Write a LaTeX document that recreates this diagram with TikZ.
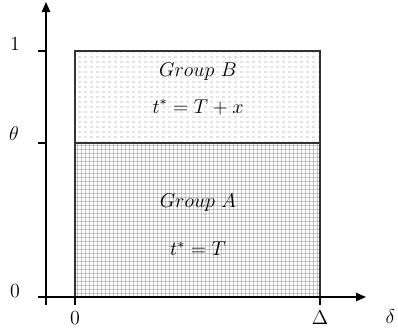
\documentclass[tikz,border=0pt]{standalone}
\usepackage{amsmath}
\usepackage{tikz}
\usetikzlibrary{arrows.meta,patterns.meta}

% light fill patterns for the two groups
\pgfdeclarepattern{
  name=dashrows,
  bottom left={\pgfpoint{0pt}{0pt}},
  top right={\pgfpoint{3.6pt}{2.7pt}},
  tile size={\pgfpoint{3.6pt}{2.7pt}},
  code={
    \pgfsetlinewidth{0.6pt}
    \pgfpathmoveto{\pgfpoint{0pt}{1.35pt}}
    \pgfpathlineto{\pgfpoint{2.2pt}{1.35pt}}
    \pgfusepath{stroke}
  }
}
\pgfdeclarepattern{
  name=finegrid,
  bottom left={\pgfpoint{0pt}{0pt}},
  top right={\pgfpoint{2.6pt}{2.6pt}},
  tile size={\pgfpoint{2.6pt}{2.6pt}},
  code={
    \pgfsetlinewidth{0.5pt}
    \pgfpathmoveto{\pgfpoint{0pt}{0.25pt}}
    \pgfpathlineto{\pgfpoint{2.6pt}{0.25pt}}
    \pgfpathmoveto{\pgfpoint{0.25pt}{0pt}}
    \pgfpathlineto{\pgfpoint{0.25pt}{2.6pt}}
    \pgfusepath{stroke}
  }
}

\begin{document}
\begin{tikzpicture}[
  x=0.6pt, y=-0.6pt,
  axis/.style={line width=0.9pt, -{Triangle[length=6pt,width=5pt]}},
  tickmark/.style={line width=0.9pt},
  region/.style={draw=black!80, line width=0.7pt},
  lbl/.style={font=\fontsize{12}{14}\selectfont, inner sep=1pt}
]
  \useasboundingbox (0,0) rectangle (398,328);

  % corners of the two regions
  \coordinate (a0) at (75,297);
  \coordinate (a1) at (320,143);
  \coordinate (b0) at (75,143);
  \coordinate (b1) at (320,51);

  % regions
  \path[pattern=finegrid, pattern color=black!35] (a0) rectangle (a1);
  \path[pattern=dashrows, pattern color=black!30] (b0) rectangle (b1);
  \draw[region] (a0) rectangle (a1);
  \draw[region] (b0) rectangle (b1);

  % axes
  \coordinate (ybot) at (46,305);
  \coordinate (ytop) at (46,2);
  \coordinate (xleft) at (38,297);
  \coordinate (xright) at (366,297);
  \draw[axis] (ybot) -- (ytop);
  \draw[axis] (xleft) -- (xright);

  % ticks
  \coordinate (t1) at (38,51);
  \coordinate (t1e) at (46,51);
  \coordinate (tth) at (38,143);
  \coordinate (tthe) at (46,143);
  \coordinate (t0) at (75,305);
  \coordinate (tD) at (320,297);
  \coordinate (tDe) at (320,305);
  \draw[tickmark] (t1) -- (t1e);
  \draw[tickmark] (tth) -- (tthe);
  \draw[tickmark] (a0) -- (t0);
  \draw[tickmark] (tD) -- (tDe);

  % axis labels
  \node[lbl] (one) at (15,44) {1};
  \node[lbl] (theta) at (14,134) {$\theta$};
  \node[lbl] (zeroy) at (15,291) {0};
  \node[lbl] (zerox) at (75,318) {0};
  \node[lbl] (delta) at (320,318) {$\Delta$};
  \node[lbl, anchor=east] (dlt) at (397,317) {$\delta$};

  % group texts
  \node[lbl] (grpB) at (198,72) {$Group\ B$};
  \node[lbl] (timeB) at (198,107) {$t^{*} = T + x$};
  \node[lbl] (grpA) at (198,203) {$Group\ A$};
  \node[lbl] (timeA) at (198,249) {$t^{*} = T$};
\end{tikzpicture}
\end{document}
